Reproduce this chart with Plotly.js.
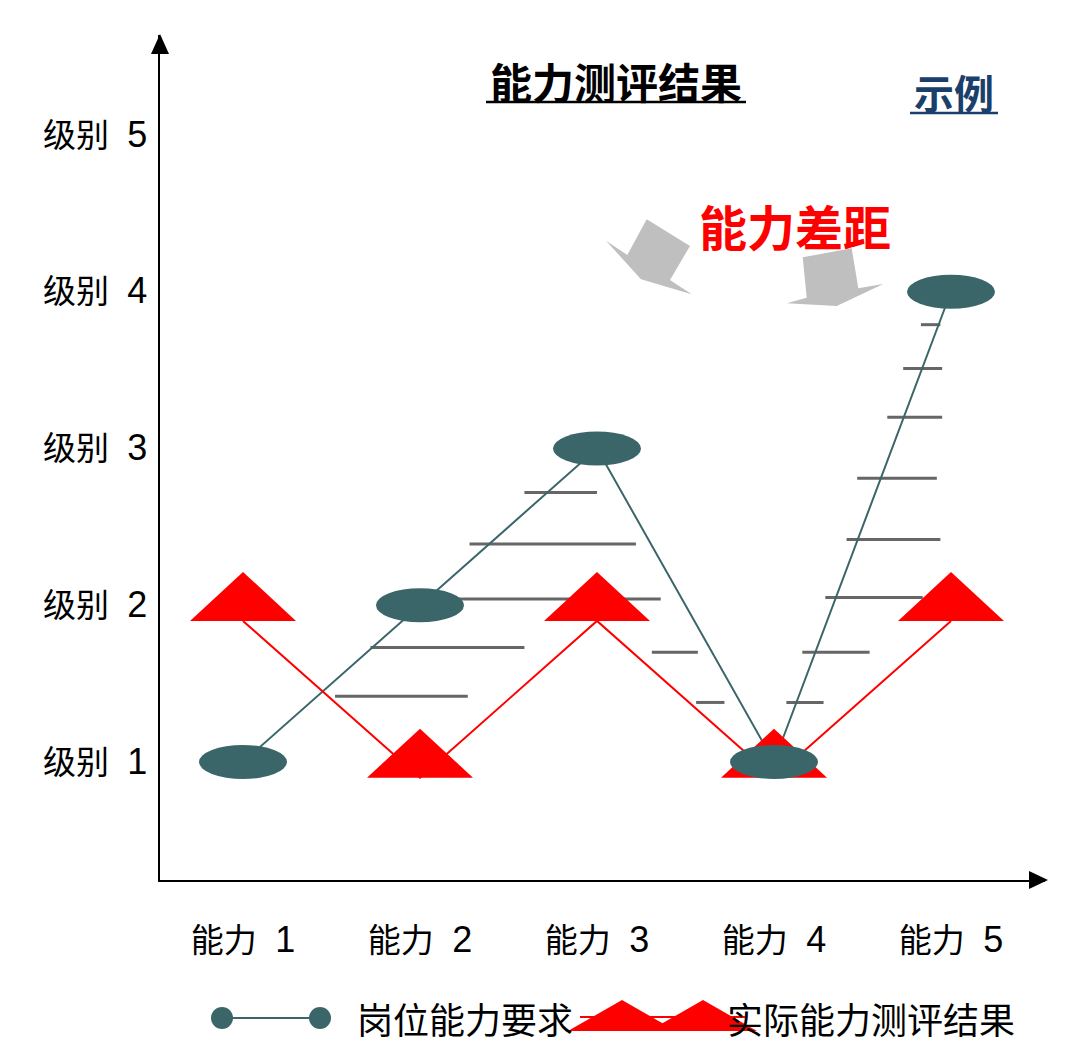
<!DOCTYPE html>
<html><head><meta charset="utf-8">
<script src="https://cdn.plot.ly/plotly-3.0.1.min.js"></script>
<style>html,body{margin:0;padding:0;background:#fff;}</style>
</head><body><div id="chart" style="width:1080px;height:1064px;"></div>
<script>
// ---- data ----
const abilityPos = [1, 2, 3, 4, 5];
const abilityNames = ['能力', '能力', '能力', '能力', '能力'];
const abilityNums = ['1', '2', '3', '4', '5'];
const levelTicks = [1, 2, 3, 4, 5];
const levelNames = ['级别', '级别', '级别', '级别', '级别'];
const levelNums = ['1', '2', '3', '4', '5'];
const required = [1, 2, 3, 1, 4];   // 岗位能力要求
const actual = [2, 1, 2, 1, 2];     // 实际能力测评结果
// gap hatch lines (level, from ability, to ability)
const gapY  = [2.72, 2.39, 2.04, 1.73, 1.42, 1.70, 1.38, 3.79, 3.51, 3.20, 2.81, 2.42, 2.05, 1.70, 1.38];
const gapX0 = [2.59, 2.28, 2.11, 1.72, 1.52, 3.31, 3.56, 4.83, 4.73, 4.64, 4.47, 4.41, 4.29, 4.16, 4.07];
const gapX1 = [3.00, 3.22, 3.36, 2.59, 2.27, 3.57, 3.72, 4.94, 4.95, 4.95, 4.92, 4.94, 4.84, 4.54, 4.28];

// ---- layout geometry ----
const W = 1080, H = 1064;
const M = {l: 160, r: 35, t: 35, b: 184};
const PW = W - M.l - M.r, PH = H - M.t - M.b;
const px = x => (x - M.l) / PW;            // pixel -> paper x
const py = y => (H - M.b - y) / PH;        // pixel -> paper y
const TEAL = '#3B6669', RED = '#FF0000', GREY = '#666666', NAVY = '#1B3F6B';
const FONT = 'Liberation Sans, Arial, Noto Sans CJK SC, sans-serif';
const CJK = 'Noto Sans CJK SC, sans-serif';
const lab = (n, d) => n + '  <span style="font-size:36px">' + d + '</span>';

// hatch trace
const hx = [], hy = [];
gapY.forEach((y, i) => { hx.push(gapX0[i], gapX1[i], null); hy.push(y, y, null); });

const traces = [
  {x: hx, y: hy, mode: 'lines', line: {color: GREY, width: 3}, hoverinfo: 'skip', showlegend: false},
  {x: abilityPos, y: required, mode: 'lines', line: {color: TEAL, width: 2}, name: '岗位能力要求', showlegend: false},
  {x: abilityPos, y: actual, yaxis: 'y2', mode: 'lines', line: {color: RED, width: 2}, name: '实际能力测评结果', showlegend: false}
];

const shapes = [];
// triangles for actual
actual.forEach((v, i) => shapes.push({
  type: 'path', layer: 'above', xref: 'x', yref: 'y2',
  xsizemode: 'pixel', ysizemode: 'pixel', xanchor: abilityPos[i], yanchor: v,
  path: 'M-53,0 L53,0 L0,49 Z', fillcolor: RED, line: {width: 0}
}));
// ellipses for required
required.forEach((v, i) => shapes.push({
  type: 'circle', layer: 'above', xref: 'x', yref: 'y',
  xsizemode: 'pixel', ysizemode: 'pixel', xanchor: abilityPos[i], yanchor: v,
  x0: -44, x1: 44, y0: -17, y1: 17, fillcolor: TEAL, line: {width: 0}
}));
// axis arrowheads
shapes.push({type: 'path', xref: 'paper', yref: 'paper', xsizemode: 'pixel', ysizemode: 'pixel',
  xanchor: 0, yanchor: 1, path: 'M-9,-19 L9,-19 L0,1 Z', fillcolor: '#000', line: {width: 0}});
shapes.push({type: 'path', xref: 'paper', yref: 'paper', xsizemode: 'pixel', ysizemode: 'pixel',
  xanchor: 1, yanchor: 0, path: 'M3,0 L-16,9 L-16,-9 Z', fillcolor: '#000', line: {width: 0}});
// decorative grey block arrows
function poly(pts) {
  return 'M' + pts.map(p => px(p[0]) + ',' + py(p[1])).join(' L') + ' Z';
}
shapes.push({type: 'path', xref: 'paper', yref: 'paper', fillcolor: '#BFBFBF', line: {width: 0},
  path: poly([[646.7,219.3],[690,246],[670,280],[691.7,294.3],[641,279.3],[606,240.7],[627.3,255]])});
shapes.push({type: 'path', xref: 'paper', yref: 'paper', fillcolor: '#BFBFBF', line: {width: 0},
  path: poly([[802.7,257.3],[851.7,248.3],[858.3,288.3],[883.3,284],[836.7,306],[786.7,303.3],[806.7,297.7]])});
// underlines
shapes.push({type: 'line', xref: 'paper', yref: 'paper', x0: px(486), x1: px(746), y0: py(102), y1: py(102), line: {color: '#000', width: 2.5}});
shapes.push({type: 'line', xref: 'paper', yref: 'paper', x0: px(910), x1: px(998), y0: py(113), y1: py(113), line: {color: NAVY, width: 2.5}});
// legend symbols
shapes.push({type: 'line', xref: 'paper', yref: 'paper', x0: px(222), x1: px(320), y0: py(1018), y1: py(1018), line: {color: TEAL, width: 2}});
[222, 320].forEach(cx => shapes.push({type: 'circle', xref: 'paper', yref: 'paper', xsizemode: 'pixel', ysizemode: 'pixel',
  xanchor: px(cx), yanchor: py(1018), x0: -11, x1: 11, y0: -11, y1: 11, fillcolor: TEAL, line: {width: 0}}));
shapes.push({type: 'line', xref: 'paper', yref: 'paper', x0: px(580), x1: px(745), y0: py(1017), y1: py(1017), line: {color: RED, width: 2}});
[622, 703].forEach(cx => shapes.push({type: 'path', xref: 'paper', yref: 'paper', xsizemode: 'pixel', ysizemode: 'pixel',
  xanchor: px(cx), yanchor: py(1031), path: 'M-54,0 L54,0 L0,31 Z', fillcolor: RED, line: {width: 0}}));

const annotations = [
  {text: '<b>能力测评结果</b>', x: px(616), y: py(80), xref: 'paper', yref: 'paper', showarrow: false,
   xanchor: 'center', yanchor: 'middle', font: {family: CJK, size: 42, color: '#000'}},
  {text: '<b>示例</b>', x: px(954), y: py(92), xref: 'paper', yref: 'paper', showarrow: false,
   xanchor: 'center', yanchor: 'middle', font: {family: CJK, size: 40, color: NAVY}},
  {text: '<b>能力差距</b>', x: px(795), y: py(225), xref: 'paper', yref: 'paper', showarrow: false,
   xanchor: 'center', yanchor: 'middle', font: {family: CJK, size: 48, color: RED}},
  {text: '岗位能力要求', x: px(355), y: py(1018), xref: 'paper', yref: 'paper', showarrow: false,
   xanchor: 'left', yanchor: 'middle', font: {family: CJK, size: 36, color: '#000'}},
  {text: '实际能力测评结果', x: px(725), y: py(1018), xref: 'paper', yref: 'paper', showarrow: false,
   xanchor: 'left', yanchor: 'middle', font: {family: CJK, size: 36, color: '#000'}}
];

const yr = [1 - 118 / 156.75, 1 + 727 / 156.75];
const shift = 0.1;
const layout = {
  width: W, height: H, margin: M, paper_bgcolor: '#fff', plot_bgcolor: '#fff', showlegend: false,
  xaxis: {range: [1 - 83 / 177, 1 + 802 / 177], tickvals: abilityPos,
    ticktext: abilityNames.map((n, i) => lab(n, abilityNums[i])),
    showgrid: false, zeroline: false, showline: true, linecolor: '#000', linewidth: 2, ticks: '',
    ticklabelstandoff: 30, tickfont: {family: FONT, size: 33, color: '#000'}},
  yaxis: {range: yr, tickvals: levelTicks, ticktext: levelNames.map((n, i) => lab(n, levelNums[i])),
    showgrid: false, zeroline: false, showline: true, linecolor: '#000', linewidth: 2, ticks: '',
    ticklabelstandoff: 4, tickfont: {family: FONT, size: 33, color: '#000'}},
  yaxis2: {range: [yr[0] + shift, yr[1] + shift], overlaying: 'y', visible: false},
  shapes: shapes, annotations: annotations
};
Plotly.newPlot('chart', traces, layout, {staticPlot: true, displayModeBar: false});
</script></body></html>
